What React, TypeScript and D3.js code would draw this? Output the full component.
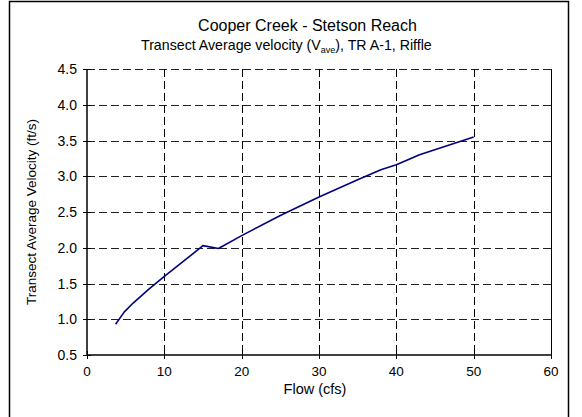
import React from "react";
import * as d3 from "d3";

const flows = [3.7, 4.8, 6, 8, 10, 12, 15, 17, 20, 25, 30, 35, 38, 40, 43, 50];
const velocities = [0.93, 1.1, 1.23, 1.42, 1.6, 1.77, 2.03, 1.99, 2.17, 2.45, 2.71, 2.95, 3.09, 3.16, 3.3, 3.55];
const xTicks = [0, 10, 20, 30, 40, 50, 60];
const yTicks = [0.5, 1.0, 1.5, 2.0, 2.5, 3.0, 3.5, 4.0, 4.5];

const titleLine1 = "Cooper Creek - Stetson Reach";
const xTitle = "Flow (cfs)";
const yTitle = "Transect Average Velocity (ft/s)";

const W = 582;
const H = 417;
const left = 87;
const right = 551;
const top = 69;
const bottom = 355;
const FONT = "'Liberation Sans', Arial, sans-serif";

export default function App() {
  const x = d3.scaleLinear().domain([0, 60]).range([left, right]);
  const y = d3.scaleLinear().domain([0.5, 4.5]).range([bottom, top]);
  const pts: [number, number][] = flows.map((f, i) => [f, velocities[i]]);
  const line = d3
    .line<[number, number]>()
    .x((d) => x(d[0]))
    .y((d) => y(d[1]));

  return (
    <svg
      width={W}
      height={H}
      style={{ position: "absolute", left: 0, top: 0, background: "#fff" }}
      fontFamily={FONT}
    >
      <rect x={0} y={0} width={W} height={H} fill="#fff" />
      <rect x={9.5} y={1.5} width={559} height={420} fill="none" stroke="#000" strokeWidth={1.5} />

      {/* horizontal gridlines */}
      {yTicks.slice(1).map((t) => (
        <line
          key={"hy" + t}
          x1={left}
          x2={right}
          y1={Math.round(y(t)) + 0.5}
          y2={Math.round(y(t)) + 0.5}
          stroke="#222"
          strokeDasharray="8 4"
          strokeWidth={1}
        />
      ))}
      {/* vertical gridlines */}
      {xTicks.slice(1, -1).map((t) => (
        <line
          key={"vx" + t}
          x1={Math.round(x(t)) + 0.5}
          x2={Math.round(x(t)) + 0.5}
          y1={top}
          y2={bottom}
          stroke="#000"
          strokeDasharray="8 4"
          strokeWidth={1}
        />
      ))}
      {/* right border */}
      <line x1={right + 0.5} x2={right + 0.5} y1={top} y2={bottom} stroke="#000" strokeWidth={1} />

      {/* axes */}
      <line x1={left} x2={left} y1={top} y2={bottom + 0.5} stroke="#000" strokeWidth={1.5} />
      <line x1={left} x2={right + 1} y1={bottom} y2={bottom} stroke="#000" strokeWidth={1.5} />

      {/* y ticks */}
      {yTicks.map((t) => (
        <g key={"yt" + t}>
          <line x1={left - 4} x2={left + 4} y1={Math.round(y(t)) + 0.5} y2={Math.round(y(t)) + 0.5} stroke="#000" />
          <text x={left - 10} y={y(t)} dy="0.36em" textAnchor="end" fontSize={14} fill="#000">
            {t.toFixed(1)}
          </text>
        </g>
      ))}
      {/* x ticks */}
      {xTicks.map((t) => (
        <g key={"xt" + t}>
          <line x1={Math.round(x(t)) + 0.5} x2={Math.round(x(t)) + 0.5} y1={bottom - 4} y2={bottom + 4} stroke="#000" />
          <text x={x(t)} y={bottom + 21} textAnchor="middle" fontSize={13.5} fill="#000">
            {t}
          </text>
        </g>
      ))}

      {/* data line */}
      <path d={line(pts) || ""} fill="none" stroke="#000080" strokeWidth={1.6} strokeLinejoin="round" />

      {/* titles */}
      <text x={307.5} y={31} textAnchor="middle" fontSize={16} fill="#000">
        {titleLine1}
      </text>
      <text x={141} y={50} textAnchor="start" fontSize={14.2} fill="#000">
        Transect Average velocity (V
        <tspan fontSize={9} dy={3}>ave</tspan>
        <tspan dy={-3}>), TR A-1, Riffle</tspan>
      </text>
      <text x={315} y={394} textAnchor="middle" fontSize={14.5} fill="#000">
        {xTitle}
      </text>
      <text
        transform={`translate(36, ${(top + bottom) / 2}) rotate(-90)`}
        textAnchor="middle"
        fontSize={13.5}
        fill="#000"
      >
        {yTitle}
      </text>
    </svg>
  );
}
